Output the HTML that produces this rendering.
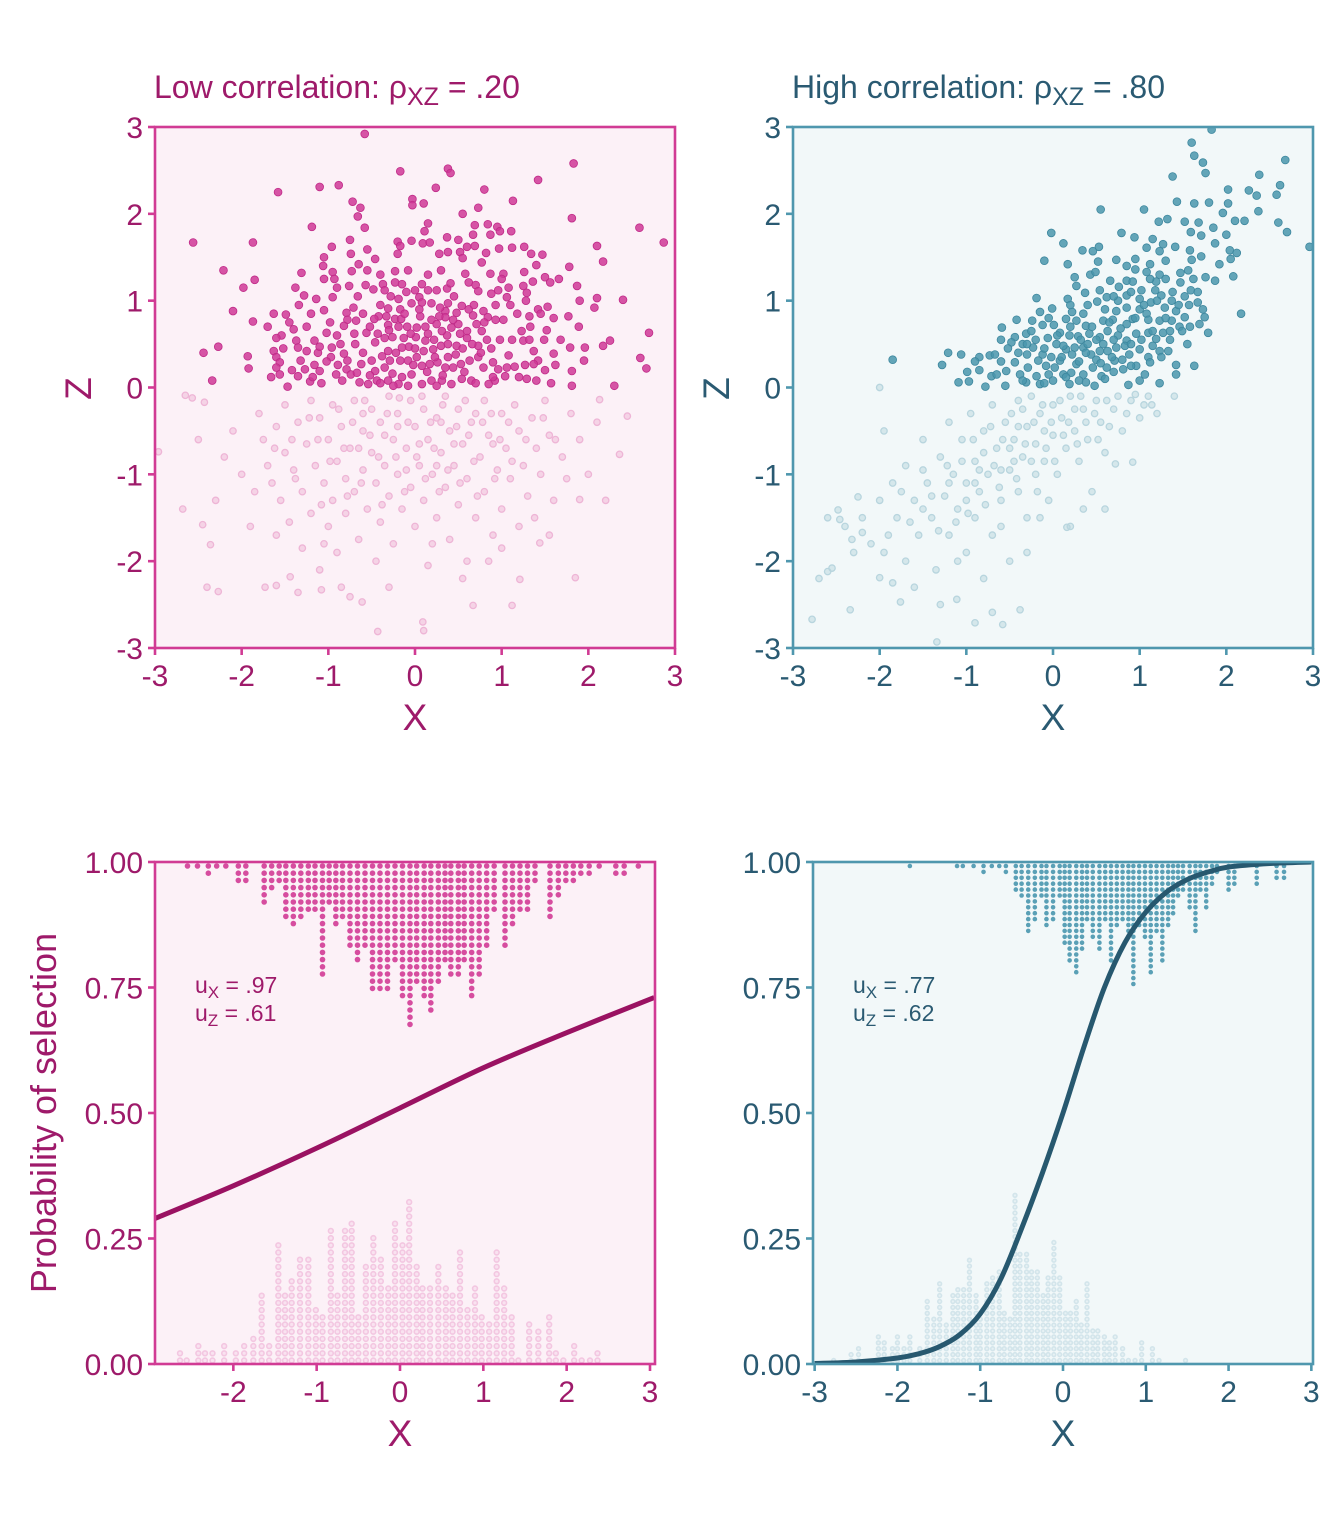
<!DOCTYPE html>
<html><head><meta charset="utf-8"><style>
html,body{margin:0;padding:0;background:#fff;}
svg{display:block;font-family:"Liberation Sans",Arial,sans-serif;}
</style></head><body>
<svg id="chart" width="1344" height="1536" viewBox="0 0 1344 1536" xmlns="http://www.w3.org/2000/svg">
<g id="root"></g>
</svg>
<script>
// ---------- data ----------
const xTicksTop = [-3,-2,-1,0,1,2,3];
const zTicksTop = [-3,-2,-1,0,1,2,3];
const xTicksBL = [-2,-1,0,1,2,3];
const xTicksBR = [-3,-2,-1,0,1,2,3];
const pTicks = [0,0.25,0.5,0.75,1];
const pTickLabels = ["0.00","0.25","0.50","0.75","1.00"];

const lowSelected = [[-0.58,2.92],[-0.17,2.49],[0.38,2.52],[0.41,2.47],[1.83,2.58],[1.42,2.39],[0.24,2.30],[0.80,2.28],[-1.58,2.25],[-1.10,2.31],[-0.88,2.33],[-0.72,2.14],[-0.63,2.07],[-0.66,1.97],[-0.03,2.17],[-0.03,2.10],[0.10,2.12],[1.13,2.15],[0.73,2.07],[0.55,2.00],[1.81,1.95],[2.59,1.84],[2.87,1.67],[-2.56,1.67],[-1.87,1.67],[-1.19,1.85],[-0.58,1.84],[0.15,1.89],[0.11,1.80],[0.69,1.87],[0.84,1.88],[0.95,1.85],[1.11,1.80],[-2.21,1.35],[-1.85,1.24],[-1.98,1.15],[-2.10,0.88],[-1.87,0.76],[-2.44,0.40],[-2.27,0.47],[-1.93,0.36],[-1.92,0.22],[-2.34,0.08],[2.10,1.63],[2.17,1.45],[1.78,1.39],[2.40,1.01],[2.10,1.03],[2.70,0.63],[2.60,0.34],[2.67,0.22],[2.30,0.02],[2.25,0.54],[2.17,0.48],[1.96,0.46],[1.79,0.46],[1.95,0.31],[1.81,0.19],[1.87,1.17],[1.66,1.25],[1.89,0.70],[1.77,0.82],[2.07,0.92],[1.60,0.39],[1.62,0.26],[1.57,0.05],
[-0.96,1.62],[-1.05,1.50],[-1.06,1.40],[-0.95,1.33],[-1.05,1.25],[-0.93,1.25],[-0.90,1.15],[-0.95,1.04],[-1.31,1.32],[-1.38,1.15],[-1.28,1.06],[-1.34,0.95],[-1.14,1.02],[-1.20,0.85],[-1.63,0.85],[-1.49,0.84],[-1.40,0.67],[-1.54,0.60],[-1.60,0.57],[-1.37,0.54],[-1.35,0.46],[-1.63,0.42],[-1.60,0.35],[-1.56,0.29],[-1.60,0.23],[-1.56,0.15],[-1.66,0.12],[-1.47,0.01],[-1.35,0.13],[-1.32,0.31],[-1.25,0.42],[-1.27,0.21],[-1.21,0.07],[-1.08,0.05],[-1.10,0.19],[-1.16,0.26],[-1.12,0.40],[-1.10,0.47],[-1.16,0.54],[-1.05,0.89],[-1.02,0.63],[-0.90,0.60],[-0.96,0.46],[-0.97,0.35],[-0.89,0.26],[-0.91,0.15],[-0.82,0.39],[-0.78,0.31],[-0.79,0.21],[-0.74,0.15],[-0.67,0.17],[-0.62,0.27],[-0.60,0.40],[-0.56,0.63],[-0.71,0.92],[-0.79,0.86],[-0.78,0.78],[-0.82,0.71],[-0.68,0.77],[-0.76,1.17],[-0.73,1.34],[-0.74,1.54],[-0.75,1.70],[-0.65,1.42],[-0.55,1.59],[-0.46,1.48],[-0.55,1.35],[-0.57,1.18],[-0.48,1.13],[-0.40,1.30],[-0.37,1.19],[-0.35,1.12],[-0.28,1.05],[-0.19,1.02],[-0.23,1.34],[-0.23,1.21],[-0.15,1.19],[-0.08,1.35],[-0.20,1.68],[-0.17,1.63],[-0.20,1.54],[-0.04,1.69],[0.09,1.66],[0.17,1.67],[0.15,1.30],[0.00,1.12],[0.08,1.19],[0.05,1.04],[0.15,1.12],[0.25,1.12],[0.37,1.14],[0.41,1.20],[0.28,1.54],[0.38,1.56],[0.37,1.73],[0.50,1.70],[0.60,1.62],[0.52,1.56],[0.55,1.49],[0.67,1.76],[0.69,1.63],[0.82,1.55],[0.77,1.44],[0.87,1.76],[0.98,1.80],[0.97,1.60],[1.12,1.61],[1.26,1.62],[1.34,1.54],[1.47,1.53],[1.40,1.41],[1.26,1.33],[1.36,1.22],[1.50,1.27],[1.56,1.21],[1.25,1.17],[1.29,1.09],[1.28,1.00],[1.08,1.15],[1.02,1.31],[1.00,1.25],[0.87,1.31],[0.58,1.31],[0.62,1.21],[0.70,1.18],[0.73,1.11],[0.88,1.08],[0.96,1.12],[1.06,1.04],[0.93,0.95],[0.79,0.88],[0.84,0.81],[0.93,0.78],[0.67,0.83],[0.62,0.90],[0.54,0.94],[0.48,0.86],[0.35,0.88],[0.29,0.92],[0.38,0.97],[0.19,0.97],[0.08,0.98],[-0.04,0.97],[-0.17,0.90],[-0.31,0.91],[-0.33,0.82],[-0.23,0.79],[-0.16,0.79],[-0.09,0.70],[-0.19,0.70],[-0.31,0.72],[-0.42,0.82],[-0.47,0.79],[-0.52,0.70],[-0.43,0.62],[-0.35,0.57],[-0.26,0.58],[-0.13,0.57],[-0.07,0.47],[0.01,0.58],[0.06,0.82],[0.19,0.78],[0.25,0.73],[0.35,0.81],[0.42,0.69],[0.50,0.73],[0.60,0.65],[0.71,0.73],[0.77,0.65],[0.83,0.55],[0.73,0.48],[0.60,0.57],[0.48,0.48],[0.37,0.60],[0.30,0.48],[0.21,0.44],[0.12,0.54],[0.10,0.42],[0.02,0.35],[-0.08,0.31],[-0.17,0.31],[-0.29,0.31],[-0.35,0.23],[-0.26,0.16],[-0.15,0.12],[-0.04,0.15],[0.08,0.25],[0.17,0.27],[0.26,0.29],[0.38,0.35],[0.44,0.23],[0.53,0.27],[0.63,0.31],[0.73,0.35],[0.79,0.23],[0.90,0.29],[0.96,0.21],[1.06,0.23],[1.08,0.37],[1.15,0.24],[1.25,0.54],[1.23,0.65],[1.33,0.70],[1.32,0.82],[1.42,0.90],[1.53,0.93],[1.45,0.85],[1.49,0.55],[1.52,0.66],[1.37,0.42],[1.42,0.31],[1.27,0.26],[1.37,0.27],[1.04,0.13],[0.92,0.08],[0.85,0.04],[0.65,0.08],[0.54,0.10],[0.42,0.04],[0.31,0.08],[0.19,0.08],[0.08,0.04],[-0.08,0.02],[-0.19,0.04],[-0.31,0.08],[-0.44,0.08],[-0.54,0.04],[-0.64,0.06],[1.29,0.10],[1.81,0.02],[0.31,0.65],[0.02,0.69],[0.15,0.62],[0.38,0.50],[0.23,0.35],[0.35,0.23],[-0.50,0.31],[-0.46,0.19],[-0.31,0.42],[-0.15,0.46],[-0.46,0.52],[-0.69,0.50],
[-1.45,0.75],[-1.52,0.45],[-1.42,0.2],[-1.25,0.7],[-1.18,0.12],[-1.02,0.3],[-0.98,0.75],[-0.86,0.5],[-0.84,0.08],[-0.7,0.62],[-0.66,1.05],[-0.6,0.85],[-0.52,0.14],[-0.4,0.95],[-0.38,0.36],[-0.3,0.66],[-0.22,0.4],[-0.12,0.85],[-0.02,0.26],[0.0,0.45],[0.05,0.9],[0.12,0.7],[0.14,0.18],[0.22,0.55],[0.28,0.82],[0.32,0.14],[0.44,0.78],[0.47,0.38],[0.52,0.62],[0.57,0.18],[0.66,0.5],[0.68,0.95],[0.76,0.4],[0.8,0.75],[0.88,0.45],[0.9,0.12],[0.98,0.55],[1.02,0.78],[1.12,0.55],[1.18,0.85],[1.2,0.12],[1.32,0.55],[1.4,0.08],[1.5,0.2],[1.6,0.8],[1.68,0.55],[1.1,0.95],[0.45,1.05],[-0.1,1.1],[0.3,1.35],[-0.4,0.05],[0.7,0.05],[-1.7,0.7],[1.9,1.0],[-0.05,0.62],[0.55,0.45],[0.25,0.02],[-0.25,0.02]];

const lowUnselected = [[-2.96,-0.74],[-2.68,-1.40],[-2.45,-1.58],[-2.36,-1.81],[-2.40,-2.30],[-2.27,-2.35],[-1.73,-2.30],[-1.60,-2.28],[-1.44,-2.18],[-1.35,-2.36],[-1.08,-2.33],[-0.75,-2.41],[-0.61,-2.47],[-0.43,-2.81],[0.09,-2.70],[0.10,-2.80],[0.67,-2.51],[1.12,-2.51],[1.21,-2.21],[1.85,-2.19],[1.44,-1.79],[1.90,-1.29],[2.36,-0.77],[2.45,-0.33],[2.13,-0.14],[-2.65,-0.09],[-2.57,-0.12],[-2.43,-0.17],
[-1.8,-0.3],[-1.75,-0.6],[-1.7,-0.9],[-1.65,-1.1],[-1.6,-0.45],[-1.55,-1.3],[-1.5,-0.2],[-1.5,-0.75],[-1.45,-1.55],[-1.4,-0.95],[-1.35,-0.4],[-1.3,-1.2],[-1.3,-1.85],[-1.25,-0.65],[-1.2,-0.15],[-1.2,-1.45],[-1.15,-0.9],[-1.1,-2.1],[-1.1,-0.35],[-1.05,-1.1],[-1.0,-0.6],[-1.0,-1.6],[-0.95,-0.2],[-0.95,-1.3],[-0.9,-0.85],[-0.9,-1.9],[-0.85,-0.45],[-0.8,-1.05],[-0.8,-1.45],[-0.75,-0.7],[-0.7,-0.15],[-0.7,-1.2],[-0.65,-1.75],[-0.6,-0.5],[-0.6,-0.95],[-0.55,-1.4],[-0.5,-0.25],[-0.5,-0.75],[-0.45,-1.1],[-0.45,-2.0],[-0.4,-0.4],[-0.4,-1.55],[-0.35,-0.9],[-0.3,-0.1],[-0.3,-1.25],[-0.25,-0.6],[-0.25,-1.8],[-0.2,-0.3],[-0.2,-1.0],[-0.15,-1.4],[-0.1,-0.7],[-0.05,-0.15],[-0.05,-1.15],[0.0,-0.45],[0.0,-1.6],[0.05,-0.9],[0.1,-0.25],[0.1,-1.3],[0.15,-0.6],[0.15,-2.05],[0.2,-1.0],[0.25,-0.35],[0.25,-1.5],[0.3,-0.75],[0.35,-0.1],[0.35,-1.15],[0.4,-0.5],[0.4,-1.75],[0.45,-0.9],[0.5,-0.25],[0.5,-1.35],[0.55,-0.65],[0.6,-1.05],[0.6,-2.0],[0.65,-0.4],[0.7,-1.5],[0.75,-0.8],[0.8,-0.15],[0.8,-1.2],[0.85,-0.55],[0.9,-1.7],[0.95,-0.95],[1.0,-0.3],[1.0,-1.4],[1.05,-0.7],[1.1,-1.05],[1.15,-0.2],[1.2,-0.5],[1.2,-1.6],[1.25,-0.9],[1.3,-1.25],[1.35,-0.35],[1.4,-0.7],[1.45,-1.0],[1.5,-0.15],[1.55,-0.55],[1.6,-1.3],[1.7,-0.8],[1.8,-0.3],[1.9,-0.6],[2.0,-1.0],[2.1,-0.4],[-2.1,-0.5],[-2.0,-1.0],[-2.2,-0.8],[-2.3,-1.3],[-1.9,-1.6],[-0.85,-2.3],[0.55,-2.2],[-0.2,-0.45],[0.3,-0.4],[-0.6,-0.3],[0.7,-0.3],[0.05,-0.65],[-0.35,-0.55],[0.45,-0.65],[-0.1,-0.95],[0.25,-0.9],[-0.65,-0.7],[0.9,-0.65],
[-1.62,-0.7],[-1.42,-0.6],[-1.38,-1.05],[-1.22,-0.35],[-1.12,-0.6],[-1.08,-1.35],[-0.98,-0.85],[-0.88,-0.25],[-0.82,-0.7],[-0.78,-1.25],[-0.72,-0.4],[-0.62,-1.1],[-0.58,-0.15],[-0.52,-0.55],[-0.42,-0.8],[-0.38,-1.35],[-0.32,-0.3],[-0.22,-0.8],[-0.18,-0.12],[-0.12,-1.2],[-0.08,-0.4],[0.02,-0.8],[0.08,-0.1],[0.12,-1.05],[0.18,-0.4],[0.22,-0.7],[0.28,-1.2],[0.32,-0.2],[0.38,-0.95],[0.48,-0.45],[0.52,-1.1],[0.58,-0.15],[0.62,-0.55],[0.68,-0.85],[0.72,-1.25],[0.78,-0.4],[0.88,-0.3],[0.92,-1.05],[0.98,-0.6],[1.08,-0.4],[1.12,-0.85],[1.28,-0.6],[1.38,-1.5],[1.48,-0.35],[1.62,-0.6],[1.75,-1.05],[-1.85,-1.2],[-1.6,-1.7],[-0.3,-2.3],[1.0,-1.85],[0.2,-1.8],[-1.05,-1.8],[0.85,-2.0],[1.55,-1.7],[2.2,-1.3],[-2.5,-0.6]];

const highSelected = [[1.83,2.97],[1.60,2.82],[1.63,2.67],[1.73,2.59],[1.76,2.47],[2.68,2.62],[1.38,2.43],[2.38,2.45],[2.62,2.33],[2.26,2.27],[2.02,2.28],[2.58,2.22],[2.35,2.21],[1.43,2.14],[1.63,2.12],[1.80,2.13],[2.02,2.12],[2.37,2.03],[0.55,2.05],[1.05,2.05],[1.32,1.94],[1.22,1.91],[1.52,1.91],[1.68,1.90],[1.96,2.01],[2.10,1.92],[2.21,1.92],[2.60,1.90],[2.70,1.79],[2.96,1.62],[1.85,1.84],[1.59,1.79],[1.71,1.75],[2.00,1.76],[-0.02,1.78],[0.12,1.66],[0.79,1.78],[0.94,1.73],[1.15,1.71],[1.87,1.66],[1.41,1.62],[1.27,1.65],[0.34,1.58],[0.46,1.57],[0.53,1.62],[1.08,1.61],[1.23,1.57],[1.58,1.58],[2.04,1.58],[2.12,1.55],[1.71,1.51],[-0.10,1.46],[0.17,1.42],[0.52,1.45],[0.73,1.47],[0.85,1.40],[0.95,1.48],[1.12,1.42],[1.30,1.46],[1.60,1.47],[1.92,1.42],[2.05,1.48],[0.25,1.27],[0.43,1.30],[0.49,1.33],[0.95,1.36],[1.08,1.33],[1.23,1.30],[1.47,1.32],[1.56,1.35],[1.76,1.27],[1.87,1.23],[2.08,1.28],[0.27,1.17],[0.37,1.09],[0.54,1.12],[0.66,1.23],[0.76,1.16],[0.85,1.23],[0.92,1.22],[1.02,1.12],[1.18,1.12],[1.19,1.22],[1.47,1.21],[1.59,1.12],[1.67,1.10],[-0.19,1.03],[0.17,1.02],[0.51,0.99],[0.62,1.04],[0.75,1.00],[0.85,1.06],[1.00,1.02],[1.13,0.98],[1.25,1.06],[1.37,1.00],[1.57,0.95],[1.67,0.98],[2.17,0.85],[-0.15,0.87],[-0.01,0.91],[0.22,0.87],[0.35,0.85],[0.60,0.90],[0.73,0.88],[0.85,0.92],[1.00,0.90],[1.08,0.85],[1.29,0.92],[1.42,0.88],[1.52,0.81],[1.73,0.90],[1.75,0.81],[-0.42,0.78],[-0.24,0.77],[-0.12,0.72],[0.01,0.72],[0.15,0.79],[0.27,0.77],[0.38,0.71],[0.58,0.77],[0.69,0.78],[0.85,0.73],[0.92,0.79],[1.10,0.78],[1.23,0.77],[1.37,0.77],[1.46,0.70],[1.58,0.70],[1.69,0.73],[1.79,0.63],[-0.59,0.69],[-0.44,0.58],[-0.31,0.62],[-0.06,0.57],[0.08,0.63],[0.19,0.60],[0.29,0.59],[0.42,0.62],[0.54,0.58],[0.63,0.65],[0.75,0.60],[0.85,0.54],[0.96,0.62],[1.10,0.63],[1.19,0.56],[1.27,0.63],[1.35,0.65],[1.49,0.65],[1.55,0.50],[-0.48,0.52],[-0.35,0.50],[-0.23,0.46],[-0.12,0.38],[0.04,0.50],[0.15,0.44],[0.25,0.46],[0.35,0.46],[0.44,0.38],[0.54,0.42],[0.63,0.42],[0.73,0.46],[0.83,0.48],[0.88,0.38],[1.00,0.44],[1.10,0.35],[1.15,0.48],[1.23,0.42],[1.33,0.42],[-1.21,0.40],[-1.06,0.38],[-0.85,0.35],[-0.73,0.37],[-0.67,0.38],[-0.60,0.30],[-1.28,0.26],[-0.99,0.18],[-0.85,0.20],[-0.71,0.13],[-0.54,0.19],[-0.44,0.29],[-0.38,0.15],[-0.29,0.23],[-0.17,0.31],[-0.19,0.13],[-0.08,0.25],[0.02,0.23],[0.08,0.31],[0.12,0.15],[0.21,0.17],[0.27,0.27],[0.35,0.15],[0.46,0.23],[0.56,0.13],[0.62,0.23],[0.71,0.31],[0.81,0.21],[0.96,0.25],[1.06,0.15],[1.12,0.29],[1.42,0.15],[1.42,0.26],[1.63,0.25],[-1.09,0.06],[-0.97,0.07],[-0.78,0.01],[-0.55,0.02],[-0.31,0.06],[-0.15,0.04],[0.00,0.08],[0.19,0.04],[0.38,0.06],[0.48,0.02],[0.87,0.03],[1.00,0.08],[1.23,0.05],[-1.85,0.32],[-0.25,0.65],[0.1,0.35],[0.3,0.3],[0.5,0.55],[0.7,0.55],[0.2,0.7],[-0.05,0.15],[0.4,0.5],
[-0.52,0.45],[-0.4,0.4],[-0.3,0.38],[-0.2,0.55],[-0.1,0.45],[-0.02,0.35],[0.05,0.6],[0.12,0.48],[0.22,0.38],[0.32,0.55],[0.38,0.4],[0.45,0.7],[0.5,0.32],[0.58,0.5],[0.65,0.75],[0.68,0.35],[0.78,0.68],[0.8,0.32],[0.9,0.5],[0.95,0.8],[1.02,0.55],[1.05,0.95],[1.15,0.65],[1.2,1.0],[1.3,0.8],[1.38,1.1],[1.45,0.95],[1.52,1.05],[1.62,1.25],[1.3,1.25],[1.12,1.25],[0.9,1.1],[0.7,1.05],[0.4,0.95],[0.2,0.95],[-0.05,0.8],[-0.3,0.5],[-0.6,0.55],[-0.65,0.15],[-0.9,0.3],[-0.35,0.08],[0.15,0.12],[0.6,0.1],[0.7,0.18],[-0.1,0.05],[0.3,0.08],[0.55,0.28],[0.9,0.25],[1.25,0.35],[1.35,0.55]];

const highUnselected = [[-2.78,-2.67],[-2.60,-2.12],[-2.55,-2.08],[-2.48,-1.41],[-2.46,-1.52],[-2.25,-1.26],[-2.32,-1.75],[-2.2,-1.67],[-2.34,-2.56],[-2.00,-2.19],[-2.00,0.0],[-1.85,-2.25],[-1.76,-2.47],[-1.34,-2.93],[-1.11,-2.44],[-0.90,-2.71],[-0.70,-2.59],[-0.38,-2.56],[-0.58,-2.73],[0.16,-1.61],[0.72,-0.88],[0.92,-0.86],[1.14,-0.20],[0.95,-0.08],
[-2.2,-1.5],[-2.1,-1.8],[-2.0,-1.3],[-1.9,-1.7],[-1.85,-1.1],[-1.8,-1.5],[-1.7,-2.0],[-1.7,-0.9],[-1.6,-1.3],[-1.55,-1.7],[-1.5,-0.6],[-1.45,-1.1],[-1.4,-1.5],[-1.35,-2.1],[-1.3,-0.8],[-1.25,-1.25],[-1.2,-0.4],[-1.2,-1.7],[-1.15,-1.0],[-1.1,-1.4],[-1.05,-0.6],[-1.0,-1.1],[-1.0,-1.9],[-0.95,-0.3],[-0.9,-0.85],[-0.9,-1.5],[-0.85,-1.2],[-0.8,-0.5],[-0.75,-1.0],[-0.7,-0.2],[-0.7,-1.7],[-0.65,-0.7],[-0.6,-1.3],[-0.55,-0.4],[-0.5,-0.95],[-0.5,-2.0],[-0.45,-0.6],[-0.4,-0.15],[-0.4,-1.2],[-0.35,-0.8],[-0.3,-0.45],[-0.3,-1.5],[-0.25,-0.1],[-0.2,-0.65],[-0.2,-1.0],[-0.15,-0.3],[-0.1,-0.85],[-0.05,-1.3],[0.0,-0.2],[0.0,-0.55],[0.05,-1.0],[0.1,-0.35],[0.15,-0.7],[0.2,-0.1],[0.25,-0.5],[0.3,-0.85],[0.35,-0.25],[0.4,-0.6],[0.45,-1.2],[0.5,-0.15],[0.55,-0.4],[0.6,-0.75],[0.7,-0.25],[0.8,-0.5],[0.9,-0.15],[1.0,-0.35],[1.1,-0.1],[1.2,-0.3],[1.4,-0.1],[-2.4,-1.6],[-2.6,-1.5],[-1.95,-0.5],[-1.6,-2.3],[-1.3,-2.5],[-0.8,-2.2],[-0.3,-1.9],[-0.6,-0.95],[-0.9,-1.1],[-1.2,-1.1],[-0.4,-0.45],[-0.1,-0.5],[0.25,-0.25],[-0.8,-0.75],[-0.5,-0.7],[-1.5,-1.4],[-1.0,-1.3],[0.6,-1.4],[0.2,-1.6],
[-1.75,-1.2],[-1.65,-1.55],[-1.5,-0.95],[-1.4,-1.25],[-1.32,-1.65],[-1.22,-0.9],[-1.12,-1.55],[-1.05,-0.85],[-0.98,-1.45],[-0.92,-0.6],[-0.85,-0.95],[-0.78,-1.35],[-0.72,-0.45],[-0.68,-0.9],[-0.62,-1.15],[-0.58,-0.6],[-0.48,-0.3],[-0.45,-0.85],[-0.42,-1.05],[-0.35,-0.25],[-0.32,-0.65],[-0.25,-0.85],[-0.22,-0.4],[-0.18,-1.2],[-0.12,-0.2],[-0.08,-0.7],[-0.02,-0.4],[0.02,-0.85],[0.08,-0.15],[0.12,-0.55],[0.18,-0.4],[0.28,-0.65],[0.32,-0.1],[0.38,-0.4],[0.48,-0.3],[0.52,-0.6],[0.62,-0.15],[0.65,-0.45],[0.75,-0.1],[0.85,-0.3],[1.05,-0.2],[-2.3,-1.9],[-1.95,-1.9],[-1.1,-2.0],[-0.6,-1.6],[-0.15,-1.5],[0.35,-1.4],[-2.7,-2.2]];

// bottom-left dot stacks
const lowTopX = [-2.55,-2.43,-2.30,-2.20,-2.09,-1.94,-1.85,-1.63,-1.54,-1.45,-1.37,-1.28,-1.19,-1.10,-1.02,-0.93,-0.85,-0.77,-0.69,-0.60,-0.51,-0.42,-0.33,-0.24,-0.15,-0.06,0.03,0.12,0.20,0.29,0.37,0.46,0.54,0.61,0.70,0.77,0.86,0.95,1.04,1.13,1.26,1.35,1.44,1.53,1.62,1.80,1.90,1.99,2.08,2.17,2.27,2.39,2.59,2.69,2.86];
const lowTopN = [1,1,2,1,1,3,3,6,4,3,8,9,8,7,7,16,6,9,8,12,14,12,18,18,18,14,19,23,17,19,21,17,14,16,16,14,19,16,12,7,12,9,7,7,3,8,5,3,3,2,2,1,2,2,1];
const lowBotX = [-2.64,-2.56,-2.42,-2.34,-2.25,-2.11,-1.97,-1.87,-1.76,-1.66,-1.57,-1.46,-1.38,-1.30,-1.20,-1.10,-1.01,-0.93,-0.83,-0.75,-0.66,-0.58,-0.50,-0.41,-0.32,-0.23,-0.14,-0.06,0.03,0.11,0.20,0.27,0.36,0.46,0.55,0.63,0.72,0.81,0.90,0.98,1.07,1.16,1.25,1.34,1.42,1.55,1.66,1.79,1.87,1.96,2.09,2.18,2.28,2.37];
const lowBotN = [2,1,3,2,2,3,2,3,4,10,3,17,10,12,15,15,8,7,19,10,19,20,7,14,18,15,11,20,17,23,14,11,11,14,11,10,16,8,11,7,6,16,11,7,1,6,5,7,2,1,3,1,1,2];
// bottom-right dot stacks
const highTopX = [-1.85,-1.28,-1.21,-1.08,-0.96,-0.86,-0.77,-0.69,-0.57,-0.50,-0.42,-0.34,-0.26,-0.20,-0.12,-0.04,0.02,0.08,0.16,0.23,0.29,0.36,0.44,0.51,0.58,0.65,0.72,0.79,0.85,0.92,0.99,1.06,1.13,1.20,1.27,1.33,1.39,1.45,1.53,1.60,1.66,1.73,1.80,1.86,2.00,2.07,2.34,2.58,2.67];
const highTopN = [1,1,1,1,2,1,1,2,5,6,12,10,6,11,10,6,14,17,19,15,10,13,15,10,17,11,10,13,21,11,13,19,12,17,11,9,6,5,8,12,5,8,4,2,5,4,4,3,3];
const highBotX = [-2.77,-2.56,-2.47,-2.23,-2.16,-2.06,-2.00,-1.92,-1.85,-1.73,-1.64,-1.56,-1.49,-1.41,-1.33,-1.27,-1.20,-1.13,-1.05,-1.00,-0.92,-0.85,-0.77,-0.71,-0.64,-0.58,-0.52,-0.44,-0.38,-0.31,-0.24,-0.18,-0.11,-0.04,0.03,0.09,0.16,0.22,0.29,0.36,0.42,0.50,0.56,0.63,0.72,0.79,0.87,0.95,1.08,1.16,1.48];
const highBotN = [1,2,3,5,4,3,5,3,5,3,11,8,14,7,12,13,13,18,12,9,14,15,16,9,8,29,19,19,16,16,12,15,21,15,9,9,11,7,14,6,6,5,4,5,3,1,1,4,3,1,1];

// selection probability curves
const lowCurveX = [-2.94,-2,-1,0,1,2,3.05];
const lowCurveP = [0.29,0.355,0.43,0.51,0.59,0.66,0.73];
const highCurveX = [-3,-2.5,-2,-1.75,-1.5,-1.25,-1,-0.75,-0.5,-0.25,0,0.25,0.5,0.75,1,1.25,1.5,1.75,2,2.5,3];
const highCurveP = [0.001,0.004,0.012,0.02,0.034,0.058,0.1,0.17,0.27,0.38,0.5,0.63,0.75,0.84,0.9,0.94,0.965,0.98,0.99,0.997,1.0];

// ---------- drawing ----------
const NS = "http://www.w3.org/2000/svg";
const root = document.getElementById("root");
function el(tag, attrs, parent, text){
  const e = document.createElementNS(NS, tag);
  for (const k in attrs) e.setAttribute(k, attrs[k]);
  if (text !== undefined) e.textContent = text;
  (parent || root).appendChild(e);
  return e;
}
function lin(d0,d1,r0,r1){ return v => r0 + (v-d0)*(r1-r0)/(d1-d0); }

const PINK = {box:"#d13b94", text:"#9e1a6a", bg:"#fcf1f7", pt:"#cf3896", ptStroke:"#c02a88", faint:"#eeb5d6", curve:"#9a1262", dot:"#d64d9f", dotFaint:"#f3c7e1"};
const TEAL = {box:"#4f97ae", text:"#2a5a72", bg:"#f2f8f9", pt:"#4a96ad", ptStroke:"#3d879e", faint:"#b8d5de", curve:"#27586f", dot:"#5aa0b6", dotFaint:"#d3e5eb"};

function frame(g, L, T, R, B, c){
  const r = el("rect", {x:L, y:T, width:R-L, height:B-T, fill:c.bg, stroke:"none"}, g);
  
  
}
function border(g, L, T, R, B, c){
  const r = el("rect", {x:L, y:T, width:R-L, height:B-T, fill:"none", stroke:c.box, "stroke-width":2.6}, g);
  
  
}
function xAxis(g, ticks, labels, sx, B, c){
  ticks.forEach((t,i) => {
    const x = sx(t);
    const tk = el("line", {x1:x, x2:x, y1:B, y2:B+7, stroke:c.box, "stroke-width":2.6}, g);
    
    
    const lb = el("text", {x:x, y:B+38, "text-anchor":"middle", "font-size":30, fill:c.text}, g, labels[i]);
    
    
  });
}
function yAxis(g, ticks, labels, sy, L, c){
  ticks.forEach((t,i) => {
    const y = sy(t);
    const tk = el("line", {x1:L-7, x2:L, y1:y, y2:y, stroke:c.box, "stroke-width":2.6}, g);
    
    
    const lb = el("text", {x:L-12, y:y+11, "text-anchor":"end", "font-size":30, fill:c.text}, g, labels[i]);
    
    
  });
}
function title(g, x, y, prefix, val, c){
  const t = el("text", {x:x, y:y, "font-size":32, fill:c.text}, g);
  
  
  el("tspan", {}, t, prefix + "\u03C1");
  el("tspan", {"font-size":25, dy:7}, t, "XZ");
  el("tspan", {dy:-7}, t, " = " + val);
}
function axisTitleX(g, x, y, c){
  const t = el("text", {x:x, y:y, "text-anchor":"middle", "font-size":37, fill:c.text}, g, "X");
  
  
}
function axisTitleY(g, x, y, txt, c, fs){
  const t = el("text", {x:x, y:y, "text-anchor":"middle", "font-size":fs, fill:c.text, transform:"rotate(-90 "+x+" "+y+")"}, g, txt);
  
  
}

function scatterPanel(name, L, T, R, B, c, sel, unsel, ttl, val){
  const g = el("g", {}, root);
  
  
  const sx = lin(-3,3,L,R), sy = lin(-3,3,B,T);
  frame(g,L,T,R,B,c);
  const clipId = name + "-clip";
  const cp = el("clipPath", {id:clipId}, g);
  el("rect", {x:L, y:T, width:R-L, height:B-T}, cp);
  const pg = el("g", {"clip-path":"url(#"+clipId+")"}, g);
  unsel.forEach(p => {
    const d = el("circle", {cx:sx(p[0]), cy:sy(p[1]), r:3.2, fill:c.faint, "fill-opacity":0.5, stroke:c.faint, "stroke-width":1.3}, pg);
    
    
  });
  sel.forEach(p => {
    const d = el("circle", {cx:sx(p[0]), cy:sy(p[1]), r:3.9, fill:c.pt, "fill-opacity":0.85, stroke:c.ptStroke, "stroke-width":0.8}, pg);
    
    
  });
  border(g,L,T,R,B,c);
  xAxis(g, xTicksTop, xTicksTop.map(String), sx, B, c);
  yAxis(g, zTicksTop, zTicksTop.map(String), sy, L, c);
  title(g, L-1, 98, ttl, val, c);
  axisTitleX(g, (L+R)/2, B+82, c);
  axisTitleY(g, L-64, (T+B)/2+1, "Z", c, 37);
}

function curvePath(xs, ps, sx, sy){
  const pts = xs.map((x,i)=>[sx(x), sy(ps[i])]);
  let d = "M"+pts[0][0]+","+pts[0][1];
  for (let i=0;i<pts.length-1;i++){
    const p0 = pts[Math.max(0,i-1)], p1 = pts[i], p2 = pts[i+1], p3 = pts[Math.min(pts.length-1,i+2)];
    const c1 = [p1[0]+(p2[0]-p0[0])/6, p1[1]+(p2[1]-p0[1])/6];
    const c2 = [p2[0]-(p3[0]-p1[0])/6, p2[1]-(p3[1]-p1[1])/6];
    d += " C"+c1[0]+","+c1[1]+" "+c2[0]+","+c2[1]+" "+p2[0]+","+p2[1];
  }
  return d;
}

function probPanel(name, L, T, R, B, c, xd0, xd1, xTicks, topX, topN, botX, botN, cx, cp, rDot, gap, ux, uz, ylab){
  const g = el("g", {}, root);
  
  
  const sx = lin(xd0, xd1, L, R), sy = lin(0, 1, B, T);
  frame(g,L,T,R,B,c);
  const clipId = name + "-clip";
  const cpth = el("clipPath", {id:clipId}, g);
  el("rect", {x:L, y:T, width:R-L, height:B-T}, cpth);
  const pg = el("g", {"clip-path":"url(#"+clipId+")"}, g);
  botX.forEach((x,i) => {
    for (let k=0;k<botN[i];k++){
      const d = el("circle", {cx:sx(x), cy:B-3.5-k*gap, r:rDot-0.4, fill:c.dotFaint, "fill-opacity":0.35, stroke:c.dotFaint, "stroke-width":1.6}, pg);
      
      
    }
  });
  topX.forEach((x,i) => {
    for (let k=0;k<topN[i];k++){
      const d = el("circle", {cx:sx(x), cy:T+4+k*gap, r:rDot, fill:c.dot}, pg);
      
      
    }
  });
  const path = el("path", {d:curvePath(cx, cp, sx, sy), fill:"none", stroke:c.curve, "stroke-width":5, "stroke-linecap":"butt"}, pg);
  
  
  border(g,L,T,R,B,c);
  xAxis(g, xTicks, xTicks.map(String), sx, B, c);
  yAxis(g, pTicks, pTickLabels, sy, L, c);
  axisTitleX(g, sx(0), B+82, c);
  if (ylab) axisTitleY(g, 56, (T+B)/2, ylab, c, 36);
  const a = el("text", {x:L+40, y:T+131, "font-size":23, fill:c.text}, g);
  
  
  el("tspan", {}, a, "u");
  el("tspan", {"font-size":17, dy:5}, a, "X");
  el("tspan", {dy:-5}, a, " = " + ux);
  const b = el("text", {x:L+40, y:T+159, "font-size":23, fill:c.text}, g);
  
  
  el("tspan", {}, b, "u");
  el("tspan", {"font-size":17, dy:5}, b, "Z");
  el("tspan", {dy:-5}, b, " = " + uz);
}

scatterPanel("low-correlation-scatter", 155, 127, 675, 648, PINK, lowSelected, lowUnselected, "Low correlation: ", ".20");
scatterPanel("high-correlation-scatter", 793, 127, 1313, 648, TEAL, highSelected, highUnselected, "High correlation: ", ".80");
probPanel("low-selection-probability", 155, 862, 655, 1364, PINK, -2.94, 3.06, xTicksBL, lowTopX, lowTopN, lowBotX, lowBotN, lowCurveX, lowCurveP, 2.8, 7.2, ".97", ".61", "Probability of selection");
probPanel("high-selection-probability", 813, 862, 1313, 1364, TEAL, -3.02, 3.02, xTicksBR, highTopX, highTopN, highBotX, highBotN, highCurveX, highCurveP, 2.3, 5.9, ".77", ".62", null);
</script>
</body></html>
